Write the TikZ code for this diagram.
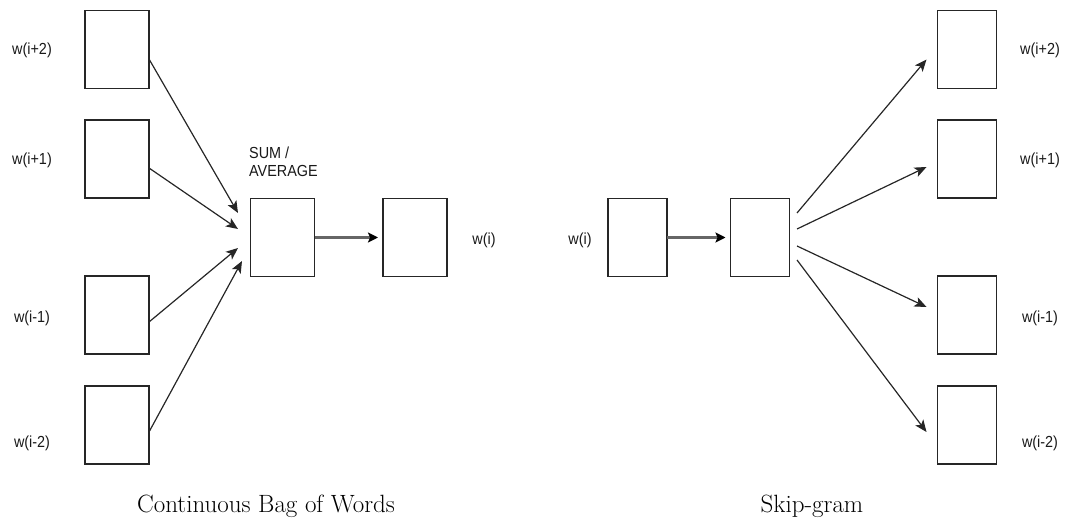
\documentclass[tikz,border=0pt]{standalone}
\usepackage{fontspec}
\newfontfamily\labfont[FakeStretch=0.9]{Liberation Sans}
\usetikzlibrary{arrows.meta,calc}
\begin{document}
\begin{tikzpicture}[x=1pt,y=-1pt,
  box/.style={draw=black!85,line width=1.5pt,inner sep=0pt,outer sep=0pt,minimum height=78pt},
  cbox/.style={box,minimum width=64pt},
  sbox/.style={box,minimum width=59pt},
  lab/.style={font=\labfont\fontsize{16}{18}\selectfont,text=black!90,inner sep=0pt},
  captext/.style={font=\fontsize{25}{28}\selectfont,inner sep=0pt},
  arr/.style={draw=black!85,line width=1.2pt,-{Stealth[length=12pt,width=10pt,inset=3pt]}},
  garr/.style={draw=black!60,line width=2.4pt,-{Stealth[length=10pt,width=10pt,inset=2pt,fill=black,color=black]}}]
\useasboundingbox (0,0) rectangle (1070,518);
% CBOW
\node[cbox] (l1) at (117,49.5) {};
\node[cbox] (l2) at (117,159) {};
\node[cbox] (l3) at (117,315) {};
\node[cbox] (l4) at (117,425) {};
\node[lab] (ll1) at (32,50) {w(i+2)};
\node[lab] (ll2) at (32,160) {w(i+1)};
\node[lab] (ll3) at (32,318) {w(i-1)};
\node[lab] (ll4) at (32,443) {w(i-2)};
\node[cbox] (sum) at (282.5,237.5) {};
\node[cbox] (out) at (415,237.5) {};
\node[lab,anchor=west,align=left] (sumlab) at (249,162) {SUM /\\AVERAGE};
\node[lab] (outlab) at (484,240) {w(i)};
\coordinate (t1) at (238,213);
\coordinate (t2) at (238,229);
\coordinate (t3) at (238,248);
\coordinate (t4) at (242,261);
\draw[arr] ($(l1.east)+(0,9.5)$) -- (t1);
\draw[arr] ($(l2.east)+(0,9)$) -- (t2);
\draw[arr] ($(l3.east)+(0,7)$) -- (t3);
\draw[arr] ($(l4.east)+(0,7)$) -- (t4);
\draw[garr] (sum.east) -- ($(out.west)+(-5,0)$);
\node[captext] (c1) at (266,506) {Continuous Bag of Words};
% Skip-gram
\node[sbox] (in) at (637.5,237.5) {};
\node[sbox] (hid) at (760,237.5) {};
\node[lab] (inlab) at (580,240) {w(i)};
\draw[garr] (in.east) -- ($(hid.west)+(-5,0)$);
\node[sbox] (r1) at (967,49.5) {};
\node[sbox] (r2) at (967,159) {};
\node[sbox] (r3) at (967,315) {};
\node[sbox] (r4) at (967,425) {};
\node[lab] (rl1) at (1040,50) {w(i+2)};
\node[lab] (rl2) at (1040,160) {w(i+1)};
\node[lab] (rl3) at (1040,318) {w(i-1)};
\node[lab] (rl4) at (1040,443) {w(i-2)};
\coordinate (s1) at (797,213);
\coordinate (s2) at (797,229);
\coordinate (s3) at (797,246);
\coordinate (s4) at (797,260);
\draw[arr] (s1) -- ($(r1.west)+(-11,10)$);
\draw[arr] (s2) -- ($(r2.west)+(-11,8)$);
\draw[arr] (s3) -- ($(r3.west)+(-11,-8)$);
\draw[arr] (s4) -- ($(r4.west)+(-11,7)$);
\node[captext] (c2) at (812,506) {Skip-gram};
\end{tikzpicture}
\end{document}
